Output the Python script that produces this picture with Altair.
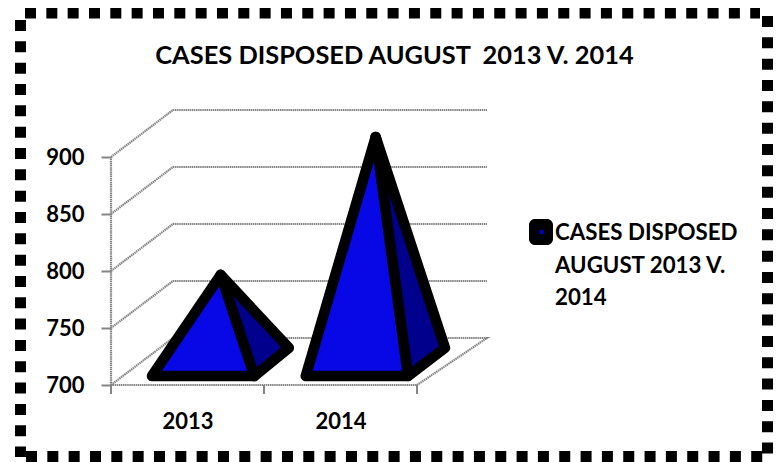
import altair as alt
import pandas as pd

# ---- chart values ----
YEARS = ["2013", "2014"]
VALUES = [776, 897]
Y_TICKS = [700, 750, 800, 850, 900]
TITLE = "CASES DISPOSED AUGUST\u00a0 2013 V. 2014"
LEGEND_LINES = ["CASES DISPOSED", "AUGUST 2013 V.", "2014"]

# ---- layout ----
W, H = 765, 454
PX_X0, PX_Y0 = 103.0, 377.0   # pixel of category 0 / value 700 in the plot
PX_PER_CAT = 153.0
PX_PER_UNIT = 57.0 / 50.0
X_DOM = [-PX_X0 / PX_PER_CAT, (W - PX_X0) / PX_PER_CAT]
Y_DOM = [700 - (H - PX_Y0) / PX_PER_UNIT, 700 + PX_Y0 / PX_PER_UNIT]

# oblique depth projection of the 3-D box
DEPTH_X, DEPTH_PERSP, DEPTH_Y = 62 / PX_PER_CAT, 8 / (2 * PX_PER_CAT), 47 / PX_PER_UNIT


def proj(u, value, depth):
    return (u + depth * (DEPTH_X + DEPTH_PERSP * u), value + depth * DEPTH_Y)


GRID = "#858585"
FRONT = "#0808e6"
SIDE = "#00008c"
FONT = "Lato"

x_scale = alt.Scale(domain=X_DOM, range=[0, W], nice=False, zero=False)
y_scale = alt.Scale(domain=Y_DOM, range=[H, 0], nice=False, zero=False)
X = alt.X("x:Q", scale=x_scale, axis=None)
Y = alt.Y("y:Q", scale=y_scale, axis=None)

# ---- 3-D box lines ----
rows = []
seg = 0
for lv in Y_TICKS[1:]:
    # wall line: side wall diagonal then back wall
    for (u, v, d) in [(0, lv, 0), (0, lv, 1), (2, lv, 1)]:
        px, py = proj(u, v, d)
        rows.append(dict(x=px, y=py, s=seg, i=len(rows)))
    seg += 1
for (u, v, d) in [(0, 700, 0), (0, 700, 1), (2, 700, 1), (2, 700, 0), (0, 700, 0)]:
    px, py = proj(u, v, d)
    rows.append(dict(x=px, y=py, s=seg, i=len(rows)))
seg += 1
box = alt.Chart(pd.DataFrame(rows)).mark_line(
    color=GRID, strokeWidth=2.2, strokeDash=[1.5, 0.6]
).encode(x=X, y=Y, detail="s:N", order="i:Q")

# front vertical axis line
ax_line = alt.Chart(pd.DataFrame({"x": [0, 0], "y": [700, 900], "i": [0, 1]})).mark_line(
    color=GRID, strokeWidth=2.2, strokeDash=[1.5, 0.6]
).encode(x=X, y=Y, order="i:Q")

# x ticks
x_tick = alt.Chart(pd.DataFrame({"x": [0, 1, 2]})).mark_rule(color=GRID, strokeWidth=2).encode(
    x=X, y=alt.value(PX_Y0), y2=alt.value(PX_Y0 + 9)
)

# ---- pyramids ----
front_rows, side_rows = [], []
BASE_L, BASE_R = 0.19, 0.855
D0, D1 = 0.19, 0.79
for k, val in enumerate(VALUES):
    fl = proj(k + BASE_L, 700, D0)
    fr = proj(k + BASE_R, 700, D0)
    br = proj(k + BASE_R - 0.03, 700, D1)
    ap = proj(k + (BASE_L + BASE_R) / 2 - 0.015, val, 0.5)
    for i, p in enumerate([fl, fr, ap, fl]):
        front_rows.append(dict(x=p[0], y=p[1], k=k, i=i))
    for i, p in enumerate([fr, br, ap, fr]):
        side_rows.append(dict(x=p[0], y=p[1], k=k, i=i))


def face(rows_, fill):
    return alt.Chart(pd.DataFrame(rows_)).mark_line(
        fill=fill, stroke="black", strokeWidth=10.5, strokeJoin="round", strokeCap="round"
    ).encode(x=X, y=Y, detail="k:N", order="i:Q")


side = face(side_rows, SIDE)
front = face(front_rows, FRONT)

# ---- category labels (real axis on the base) ----
axes = alt.Chart(pd.DataFrame({"x": [0.5, 1.5], "y": [Y_TICKS[0], Y_TICKS[-1]]})).mark_point(opacity=0).encode(
    x=alt.X("x:Q", scale=x_scale, axis=alt.Axis(
        values=[0.5, 1.5], labelExpr="datum.value < 1 ? '%s' : '%s'" % tuple(YEARS),
        domain=False, ticks=False, grid=False, title=None, offset=-(H - PX_Y0),
        labelPadding=26, labelFont=FONT, labelFontWeight="bold", labelFontSize=22,
        labelColor="black", labelFlush=False, labelOverlap=False)),
    y=alt.Y("y:Q", scale=y_scale, axis=alt.Axis(
        values=Y_TICKS, domain=False, grid=False, title=None, offset=-PX_X0,
        tickSize=10, tickWidth=2, tickColor=GRID, labelPadding=17, labelFont=FONT,
        labelFontWeight="bold", labelFontSize=22, labelColor="black", format="d",
        labelOverlap=False)),
)

# ---- legend ----
LEG_X = 521.0
leg_box = alt.Chart(pd.DataFrame({"a": [0]})).mark_rect(color="black", cornerRadius=6).encode(
    x=alt.value(LEG_X), x2=alt.value(LEG_X + 24), y=alt.value(211), y2=alt.value(237)
)
leg_dot = alt.Chart(pd.DataFrame({"a": [0]})).mark_rect(color="#0000c8").encode(
    x=alt.value(LEG_X + 10.5), x2=alt.value(LEG_X + 14.5), y=alt.value(222), y2=alt.value(226)
)
leg_text = alt.Chart(pd.DataFrame({"t": LEGEND_LINES, "r": [0, 1, 2]})).mark_text(
    align="left", baseline="middle", font=FONT, fontWeight="bold", fontSize=22.3, color="black"
).encode(
    x=alt.value(LEG_X + 26),
    y=alt.Y("r:Q", axis=None, scale=alt.Scale(domain=[0, 2], range=[225, 290])),
    text="t:N",
)

# ---- dashed frame ----
FRAME = [(17, 5, 752, 5), (12.5, 12, 12.5, 449), (759.5, 8, 759.5, 446), (18, 448.5, 755, 448.5)]
frame_rows = []
for s, (x1, y1, x2, y2) in enumerate(FRAME):
    frame_rows.append(dict(px=x1, py=y1, s=s, i=0))
    frame_rows.append(dict(px=x2, py=y2, s=s, i=1))
frame = alt.Chart(pd.DataFrame(frame_rows)).mark_line(
    color="black", strokeWidth=11, strokeDash=[11, 10.33]
).encode(
    x=alt.X("px:Q", scale=alt.Scale(domain=[0, W], range=[0, W]), axis=None),
    y=alt.Y("py:Q", scale=alt.Scale(domain=[0, H], range=[0, H]), axis=None),
    detail="s:N", order="i:Q",
)

chart = alt.layer(
    axes, box, ax_line, x_tick, side, front, leg_box, leg_dot, leg_text, frame
).resolve_scale(x="independent", y="independent").properties(
    width=W, height=H, padding=0, autosize=alt.AutoSizeParams(type="none"),
    title=alt.TitleParams(TITLE, font=FONT, fontWeight="bold", fontSize=25.4, color="black",
                          anchor="middle", dx=4, dy=82),
).configure_view(stroke=None)

chart.save("out.html", embed_options={"renderer": "svg", "actions": False})
